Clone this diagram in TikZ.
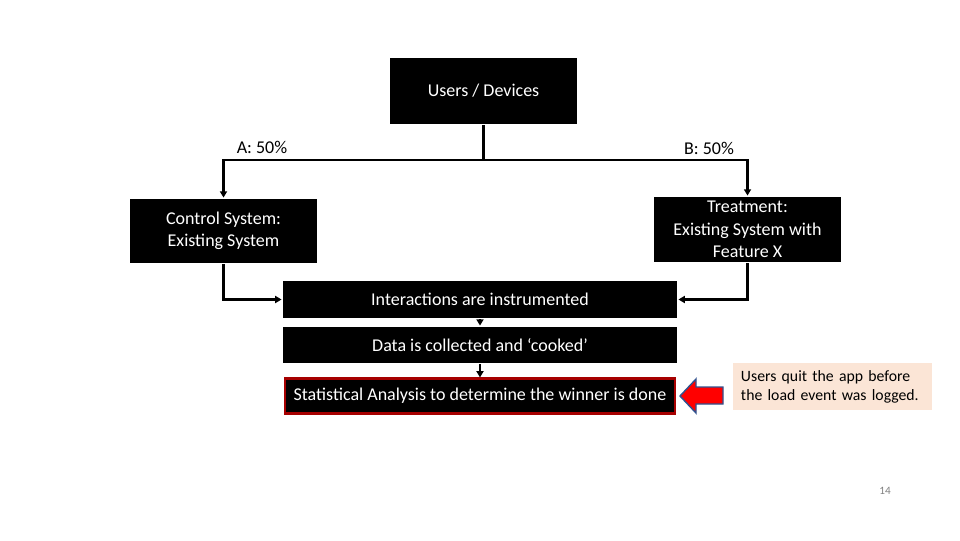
\documentclass[tikz,border=0pt]{standalone}
\usepackage{fontspec}
\setsansfont{Carlito}
\usepackage{tikz}
\usetikzlibrary{arrows.meta}

\begin{document}
\begin{tikzpicture}[x=0.025cm, y=-0.025cm, line width=2pt,
    font=\sffamily\fontsize{12.8}{15.8}\selectfont,
    darkbox/.style={fill=black, text=white, align=center, inner sep=0pt},
    flow/.style={-{Triangle[length=4.5pt,width=5pt]}}]

  \useasboundingbox (0,0) rectangle (960,540);

  % ---------- boxes ----------
  \node[darkbox, minimum width=4.675cm, minimum height=1.65cm] (users) at (483.5,91) {Users / Devices};
  \node[darkbox, minimum width=4.675cm, minimum height=1.6cm] (control) at (223.5,231)
        {Control System:\\Existing System};
  \node[darkbox, minimum width=4.675cm, minimum height=1.625cm] (treat) at (747.5,229.5)
        {Treatment:\\Existing System with\\Feature X};
  \node[darkbox, minimum width=9.85cm, minimum height=0.925cm] (inter) at (480,299.5)
        {Interactions are instrumented};
  \node[darkbox, minimum width=9.85cm, minimum height=0.9cm] (data) at (480,345)
        {Data is collected and ‘cooked’};
  \node[darkbox, draw=red!65!black, line width=1.5pt, minimum width=9.75cm, minimum height=0.875cm]
        (stats) at (480,396) {Statistical Analysis to determine the winner is done};

  % ---------- split into A / B ----------
  \coordinate (split) at (483.5,160);
  \draw (users.south) -- (split);
  \draw[flow] (split) -| (control.north);
  \draw[flow] (split) -| (treat.north);
  \node (lblA) at (262,147) {A: 50\%};
  \node (lblB) at (709,148) {B: 50\%};

  % ---------- merge and pipeline ----------
  \draw[flow] (control.south) |- (inter.west);
  \draw[flow] (treat.south) |- (inter.east);
  \draw[flow] (inter.south) -- (data.north);
  \draw[flow] (data.south) -- (stats.north);

  % ---------- callout ----------
  \draw[fill=red, draw={rgb,255:red,47;green,82;blue,143}, line width=1pt, line join=miter]
        (723,387) -- (696,387) -- (696,379) -- (680,396) -- (696,413) -- (696,404) -- (723,404) -- cycle;
  \node[fill={rgb,255:red,251;green,229;blue,214}, align=left, inner sep=0pt,
        minimum width=4.975cm, minimum height=1.175cm, text width=4.575cm,
        font=\sffamily\fontsize{11.2}{13.5}\selectfont] (note) at (832.5,386.5)
        {Users quit the app before\\the load event was logged.};

  % ---------- page number ----------
  \node[gray, font=\sffamily\fontsize{8}{9}\selectfont] (page) at (885,491) {14};

\end{tikzpicture}
\end{document}
